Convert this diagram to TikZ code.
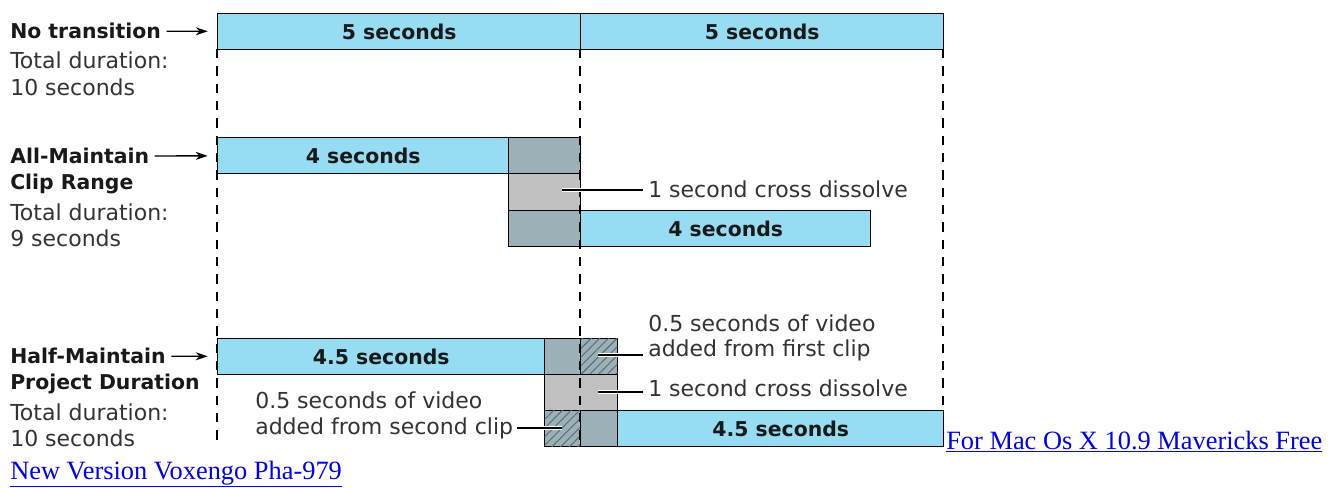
\documentclass[tikz,border=0pt]{standalone}
\usepackage{fontspec}
\setmainfont{DejaVu Sans}
\newfontfamily\linkfont{Liberation Serif}
\usetikzlibrary{patterns.meta,arrows.meta}

\definecolor{clipblue}{RGB}{150,221,243}
\definecolor{overlap}{RGB}{156,176,184}
\definecolor{dissolve}{RGB}{192,192,193}
\definecolor{hatch}{RGB}{85,105,115}
\definecolor{linkblue}{RGB}{0,0,238}
\newcommand{\un}{0.75pt}

\begin{document}
\begin{tikzpicture}[x=0.75pt, y=-0.75pt,
  every node/.style={font=\fontsize{16.5}{19}\selectfont, text=black!80},
  seg/.style={draw, line width=1.1pt, rectangle, anchor=north west, inner sep=0pt, minimum height=36*\un,
    font=\bfseries\fontsize{15.3}{18}\selectfont, text=black!90},
  clipbar/.style={seg, fill=clipblue},
  lap/.style={seg, fill=overlap},
  xfade/.style={seg, fill=dissolve},
  hatched/.style={seg, fill=overlap, postaction={pattern={Lines[angle=45, distance=4.6pt, line width=0.7pt]}, pattern color=hatch}},
  lbl/.style={anchor=west, inner sep=0pt, font=\bfseries\fontsize{15.3}{18}\selectfont, text=black!90},
  sub/.style={anchor=west, inner sep=0pt},
  guide/.style={line width=0.9pt, dash pattern=on 7pt off 6pt},
  lead/.style={line width=1pt, preaction={draw=white, line width=3pt}},
  arr/.style={-{Stealth[length=9pt,width=6pt]}, line width=1pt, shorten >=7pt, shorten <=4pt},
  link/.style={anchor=base west, inner sep=0pt, text=linkblue, font=\linkfont\fontsize{19.8}{22}\selectfont}]

\useasboundingbox (0,0) rectangle (1336,487);

% No transition
\node[clipbar, minimum width=363*\un] (nt1) at (217,13) {5 seconds};
\node[clipbar, minimum width=363*\un] (nt2) at (580,13) {5 seconds};

% All-Maintain Clip Range
\node[clipbar, minimum width=291*\un] (am1) at (217,137) {4 seconds};
\node[lap, minimum width=72*\un] (am1x) at (508,137) {};
\node[xfade, minimum width=72*\un, minimum height=37*\un] (amd) at (508,173) {};
\node[lap, minimum width=72*\un] (am2x) at (508,210) {};
\node[clipbar, minimum width=290*\un] (am2) at (580,210) {4 seconds};

% Half-Maintain Project Duration
\node[clipbar, minimum width=327*\un] (hm1) at (217,338) {4.5 seconds};
\node[lap, minimum width=36*\un] (hm1x) at (544,338) {};
\node[hatched, minimum width=37*\un] (hm1h) at (580,338) {};
\node[xfade, minimum width=73*\un] (hmd) at (544,374) {};
\node[hatched, minimum width=36*\un] (hm2h) at (544,410) {};
\node[lap, minimum width=37*\un] (hm2x) at (580,410) {};
\node[clipbar, minimum width=326*\un] (hm2) at (617,410) {4.5 seconds};

% guides
\foreach \x/\y in {217/446, 580/446, 943/410}
  \draw[guide] (\x,49) -- (\x,\y);

% left labels
\node[lbl] (nt) at (10,31) {No transition};
\node[sub] (ntt) at (10,60) {Total duration:};
\node[sub] (ntd) at (10,87) {10 seconds};
\node[lbl] (am) at (10,156) {All-Maintain};
\node[lbl] (amr) at (10,184) {Clip Range};
\node[sub] (amt) at (10,212) {Total duration:};
\node[sub] (amd2) at (10,238) {9 seconds};
\node[lbl] (hm) at (10,356) {Half-Maintain};
\node[lbl] (hmr) at (10,384) {Project Duration};
\node[sub] (hmt) at (10,412) {Total duration:};
\node[sub] (hmd2) at (10,438) {10 seconds};

\draw[arr] (nt) -- (nt1);
\draw[arr] (am) -- (am1);
\draw[arr] (hm) -- (hm1);

% right labels
\node[sub] (amx) at (648,189) {1 second cross dissolve};
\coordinate (amp) at (562,190);
\draw[lead, shorten >=4pt] (amp) -- (amp -| amx.west);

\node[sub] (hmf1) at (648,323) {0.5 seconds of video};
\node[sub] (hmf2) at (648,350) {added from first clip};
\coordinate (hmfp) at (598,355);
\draw[lead, shorten >=4pt] (hmfp) -- (hmfp -| hmf2.west);

\node[sub] (hmx) at (648,388) {1 second cross dissolve};
\coordinate (hmxp) at (598,392);
\draw[lead, shorten >=4pt] (hmxp) -- (hmxp -| hmx.west);

\node[sub] (hms1) at (255,400) {0.5 seconds of video};
\node[sub] (hms2) at (255,428) {added from second clip};
\coordinate (hmsp) at (562,428);
\draw[lead, shorten <=3pt] (hms2.east) -- (hmsp);

% links
\node[link] (lk1) at (946,449) {\underline{For Mac Os X 10.9 Mavericks Free}};
\node[link] (lk2) at (10,479) {\underline{New Version Voxengo Pha-979}};

\end{tikzpicture}
\end{document}
